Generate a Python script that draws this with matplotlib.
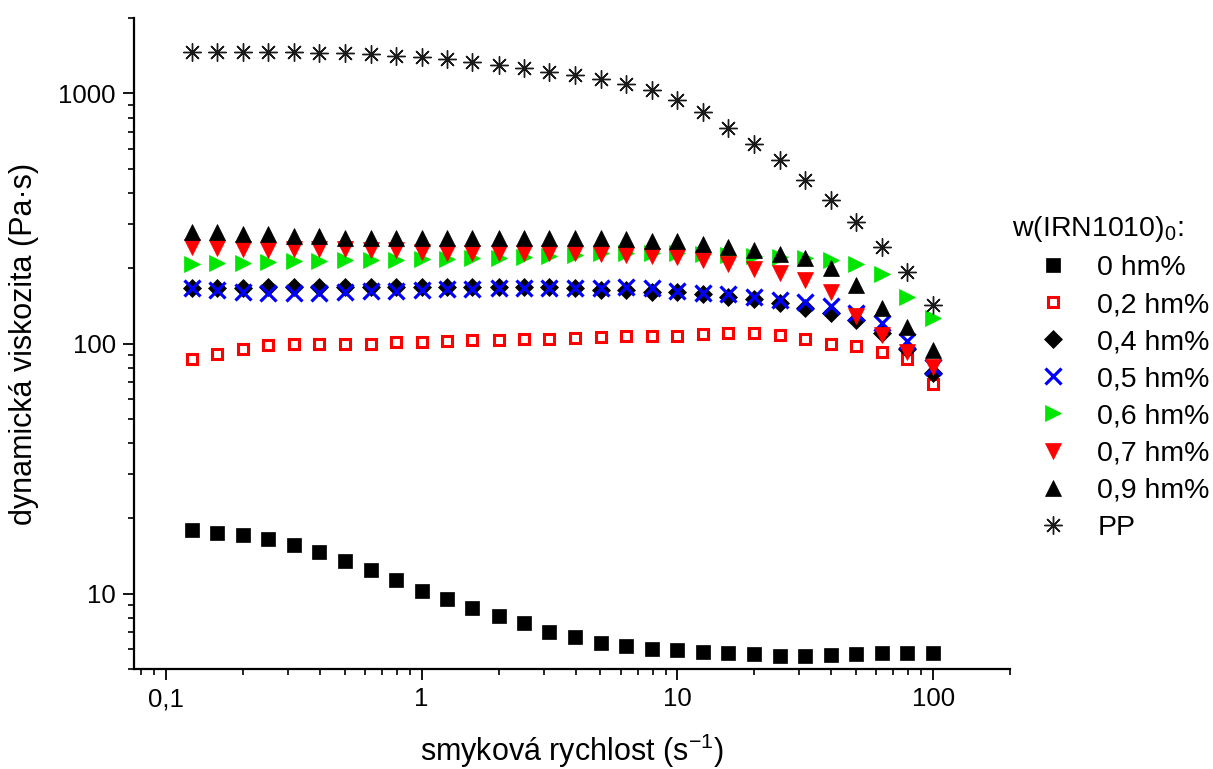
import numpy as np
import matplotlib.pyplot as plt
from matplotlib.ticker import LogLocator, FuncFormatter, NullFormatter

plt.rcParams['font.family'] = ['Liberation Sans', 'DejaVu Sans']
plt.rcParams['mathtext.default'] = 'regular'

# shear rate (1/s), 10 points per decade
shear_rate = [0.126, 0.158, 0.2, 0.251, 0.316, 0.398, 0.501, 0.631, 0.794, 1.0,
              1.26, 1.58, 2.0, 2.51, 3.16, 3.98, 5.01, 6.31, 7.94, 10.0,
              12.6, 15.8, 20.0, 25.1, 31.6, 39.8, 50.1, 63.1, 79.4, 100.0]

# dynamic viscosity (Pa.s) for each IRN1010 content
visc_0 = [17.9, 17.5, 17.1, 16.6, 15.7, 14.7, 13.5, 12.4, 11.3, 10.3,
          9.55, 8.79, 8.16, 7.65, 7.05, 6.73, 6.36, 6.19, 6.02, 5.97,
          5.86, 5.81, 5.75, 5.65, 5.65, 5.70, 5.75, 5.81, 5.81, 5.81]
visc_02 = [87.1, 91.2, 95.5, 98.2, 100, 100, 100, 100, 101, 101,
           102, 103, 103, 104, 104, 105, 106, 107, 107, 107,
           109, 110, 110, 108, 104, 100, 97.4, 92.1, 86.5, 69.2]
visc_04 = [166, 166, 166, 167.5, 167.5, 167.5, 167.5, 167.5, 167.5, 167.5,
           167.5, 167.5, 167.5, 167.5, 167.5, 166, 163, 163, 161, 160,
           157, 153, 150, 145, 139, 133, 124, 110, 95.5, 75.9]
visc_05 = [166, 163, 160, 158.5, 158.5, 158.5, 160, 161.4, 161.4, 163,
           164.4, 164.4, 166, 166, 166, 166, 166, 167.5, 166, 161.4,
           158.5, 157, 153, 149, 146, 141, 132, 121, 102, 80.2]
visc_06 = [207, 209, 209, 211, 213, 213, 215, 215, 215, 217,
           217, 219, 219, 221, 223, 225, 229, 229, 229, 229,
           227, 225, 223, 221, 219, 215, 207, 189, 154, 127]
visc_07 = [244, 241, 238, 236, 238, 238, 238, 236, 236, 232,
           231, 231, 231, 231, 231, 231, 227, 226, 223, 221,
           215, 207, 198, 191, 179, 161, 129, 108, 92.9, 80.9]
visc_09 = [278, 278, 275, 273, 268, 268, 265, 263, 265, 265,
           265, 265, 265, 265, 265, 265, 263, 261, 258, 256,
           249, 244, 236, 227, 219, 200, 172, 139, 116, 93.8]
visc_pp = [1465, 1465, 1465, 1463, 1460, 1452, 1445, 1432, 1415, 1393,
           1368, 1330, 1294, 1259, 1213, 1180, 1138, 1086, 1028, 938,
           839, 724, 625, 540, 449, 373, 305, 244, 194, 143]

labels = ['0 hm%', '0,2 hm%', '0,4 hm%', '0,5 hm%', '0,6 hm%', '0,7 hm%', '0,9 hm%', 'PP']

fig = plt.figure(figsize=(12.13, 7.69), dpi=100)
ax = fig.add_axes([0.1105, 0.13, 0.7222, 0.8466])

ax.plot(shear_rate, visc_0, ls='none', marker='s', ms=9.5, mfc='k', mec='k', mew=0.5, label=labels[0])
ax.plot(shear_rate, visc_02, ls='none', marker='s', ms=7.6, mfc='white', mec='#ff0000', mew=2.2, label=labels[1])
ax.plot(shear_rate, visc_04, ls='none', marker='D', ms=9.3, mfc='k', mec='k', mew=0.5, label=labels[2])
ax.plot(shear_rate, visc_05, ls='none', marker='x', ms=11.5, mec='#0000ff', mew=2.3, label=labels[3])
ax.plot(shear_rate, visc_06, ls='none', marker='>', ms=11.5, mfc='#00e600', mec='#00e600', mew=0.5, label=labels[4])
ax.plot(shear_rate, visc_07, ls='none', marker='v', ms=11.5, mfc='#ff0000', mec='#ff0000', mew=0.5, label=labels[5])
ax.plot(shear_rate, visc_09, ls='none', marker='^', ms=11.5, mfc='k', mec='k', mew=0.5, label=labels[6])
ax.plot(shear_rate, visc_pp, ls='none', marker=(8, 2, 0), ms=13, mec='#1a1a1a', mew=1.0, label=labels[7])

ax.set_xscale('log')
ax.set_yscale('log')
ax.set_xlim(0.075, 200)
ax.set_ylim(5, 2000)

for side in ['top', 'right']:
    ax.spines[side].set_visible(False)
for side in ['left', 'bottom']:
    ax.spines[side].set_linewidth(1.6)

ax.xaxis.set_major_locator(LogLocator(base=10, numticks=10))
ax.xaxis.set_minor_locator(LogLocator(base=10, subs=np.arange(2, 10), numticks=10))
ax.yaxis.set_major_locator(LogLocator(base=10, numticks=10))
ax.yaxis.set_minor_locator(LogLocator(base=10, subs=np.arange(2, 10), numticks=10))
comma = FuncFormatter(lambda v, p: ('%g' % v).replace('.', ','))
ax.xaxis.set_major_formatter(comma)
ax.yaxis.set_major_formatter(comma)
ax.xaxis.set_minor_formatter(NullFormatter())
ax.yaxis.set_minor_formatter(NullFormatter())
ax.tick_params(which='major', direction='out', length=8, width=1.3, labelsize=18.5, pad=5)
ax.tick_params(which='minor', direction='out', length=4.5, width=1.2)

ax.set_xlabel('smyková rychlost (s$^{-1}$)', fontsize=22)
ax.set_ylabel('dynamická viskozita (Pa·s)', fontsize=22)
ax.xaxis.set_label_coords(0.5, -0.097)
ax.yaxis.set_label_coords(-0.108, 0.5)

fig.text(1012 / 1213, 1 - 229 / 769, 'w(IRN1010)$_0$:', fontsize=20.5, ha='left', va='center')
ax.legend(loc='upper left', bbox_to_anchor=(1036 / 1213, 1 - 255 / 769),
          bbox_transform=fig.transFigure, frameon=False, fontsize=20.5,
          handlelength=1.2, handletextpad=0.95, labelspacing=0.39,
          borderpad=0, borderaxespad=0)

fig.savefig('out.png', dpi=100)
